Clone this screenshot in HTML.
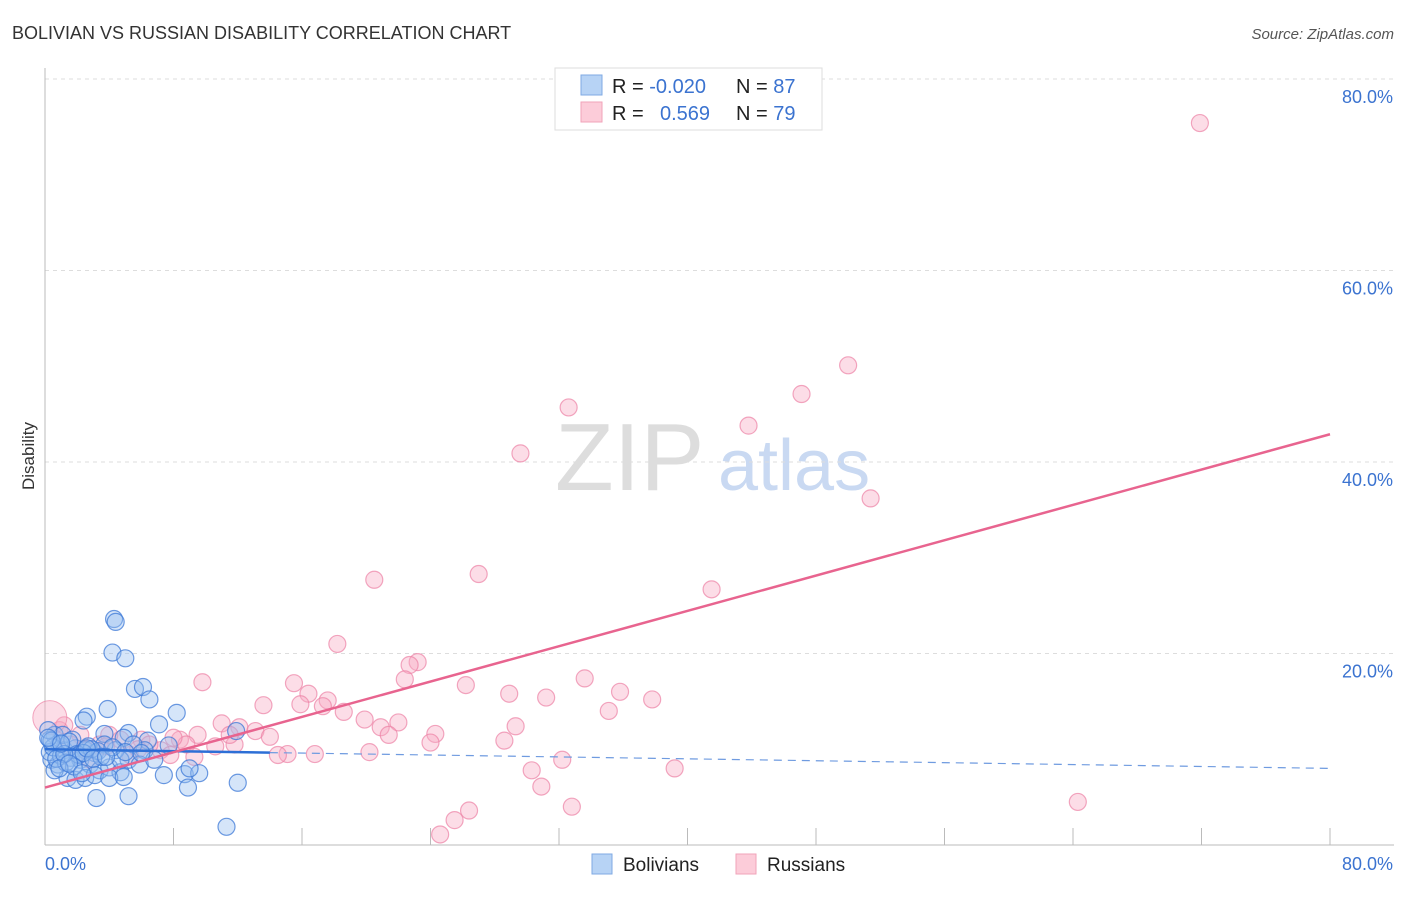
<!DOCTYPE html>
<html><head><meta charset="utf-8"><style>
body{margin:0;background:#fff;font-family:"Liberation Sans",sans-serif}
svg text{font-family:"Liberation Sans",sans-serif}
</style></head><body>
<svg width="1406" height="892" xmlns="http://www.w3.org/2000/svg">
<text x="12" y="39" font-size="18" fill="#333">BOLIVIAN VS RUSSIAN DISABILITY CORRELATION CHART</text>
<text x="1394" y="39" font-size="15" fill="#555" font-style="italic" text-anchor="end">Source: ZipAtlas.com</text>
<text x="34" y="456" font-size="17" fill="#333" transform="rotate(-90 34 456)" text-anchor="middle">Disability</text>
<text x="555" y="490" font-size="96" fill="#ddd" font-family="Liberation Serif">ZIP</text>
<text x="718" y="490" font-size="72" fill="#c9d9f2">atlas</text>
<g id="grid"></g>
<g id="marks"></g>
<g id="trend"></g>
<g>
<rect x="555" y="68" width="267" height="62" fill="#fff" stroke="#ddd"/>
<rect x="581" y="75" width="21" height="20" fill="#b7d3f5" stroke="#7fa9e3"/>
<rect x="581" y="102" width="21" height="20" fill="#fcccd9" stroke="#f1a3b9"/>
<text x="612" y="93" font-size="20" fill="#222">R = <tspan fill="#3b73d0">-0.020</tspan></text>
<text x="736" y="93" font-size="20" fill="#222">N = <tspan fill="#3b73d0">87</tspan></text>
<text x="612" y="120" font-size="20" fill="#222">R = <tspan fill="#3b73d0" x="660">0.569</tspan></text>
<text x="736" y="120" font-size="20" fill="#222">N = <tspan fill="#3b73d0">79</tspan></text>
</g>
<g>
<rect x="592" y="854" width="20" height="20" fill="#b7d3f5" stroke="#7fa9e3"/>
<text x="623" y="871" font-size="19" fill="#222">Bolivians</text>
<rect x="736" y="854" width="20" height="20" fill="#fcccd9" stroke="#f1a3b9"/>
<text x="767" y="871" font-size="19" fill="#222">Russians</text>
</g>
</svg>
<script>
const yTicks=[20,40,60,80];
const yTickLabels=["20.0%","40.0%","60.0%","80.0%"];
const xTicks=[0,8,16,24,32,40,48,56,64,72,80];
const bolX=[4.3,4.4,4.2,5.0,5.6,6.1,6.5,3.9,8.2,2.6,2.4,7.1,11.9,5.2,3.7,4.9,6.4,0.6,0.3,0.9,1.2,1.9,2.5,3.1,0.4,0.8,1.6,2.2,2.8,3.4,4.0,4.7,5.2,1.4,1.9,2.5,3.1,4.0,4.9,7.4,8.7,9.6,9.0,12.0,8.9,3.2,5.2,11.3,6.2,4.4,5.9,1.1,1.7,0.3,3.7,4.7,5.5,6.8,0.6,0.2,0.5,1.0,1.5,2.0,2.7,3.3,1.3,2.1,2.9,3.5,0.7,1.8,2.4,4.2,5.0,0.4,1.2,2.6,3.0,0.9,1.5,6.0,7.7,2.3,3.8,0.2,1.0];
const bolY=[23.6,23.3,20.1,19.5,16.3,16.5,15.2,14.2,13.8,13.4,13.0,12.6,11.9,11.7,11.6,11.2,10.9,11.5,11.0,10.5,9.9,10.1,9.9,9.6,8.9,8.4,9.1,8.9,8.4,7.8,8.1,7.6,8.9,7.0,6.8,7.0,7.3,7.0,7.1,7.3,7.4,7.5,8.0,6.5,6.0,4.9,5.1,1.9,9.9,9.9,8.4,11.5,11.0,9.7,10.5,8.9,10.5,8.9,7.8,12.0,10.2,9.3,10.8,9.5,10.3,9.8,8.6,9.4,10.0,9.2,9.0,8.2,9.6,10.2,9.7,10.9,9.5,10.1,9.0,8.0,8.5,9.6,10.4,7.5,9.2,11.2,10.6];
const rusX=[71.9,50.0,47.1,43.8,32.6,29.6,51.4,41.5,27.0,20.5,18.2,23.2,22.7,22.4,26.2,28.9,31.2,33.6,35.8,37.8,35.1,9.8,15.5,16.4,17.6,15.9,17.3,18.6,13.6,19.9,22.0,20.9,21.4,24.3,24.0,29.3,28.6,20.2,16.8,15.1,14.5,30.3,32.2,30.9,39.2,32.8,64.3,26.4,25.5,24.6,11.0,12.1,13.1,14.0,11.8,10.6,9.5,8.4,8.8,7.2,6.0,4.7,3.4,2.2,0.9,1.6,2.8,5.3,7.8,9.3,4.0,6.5,11.5,1.2,2.5,3.8,0.5,5.8,8.0];
const rusY=[75.4,50.1,47.1,43.8,45.7,40.9,36.2,26.7,28.3,27.7,21.0,19.1,18.8,17.3,16.7,15.8,15.4,17.4,16.0,15.2,14.0,17.0,16.9,15.8,15.1,14.7,14.5,13.9,14.6,13.1,12.8,12.3,11.5,11.6,10.7,12.4,10.9,9.7,9.5,9.5,9.4,7.8,8.9,6.1,8.0,4.0,4.5,3.6,2.6,1.1,12.7,12.3,11.9,11.3,10.5,10.3,11.5,11.0,10.5,9.9,11.0,11.0,10.5,11.5,12.0,10.5,8.9,9.4,9.4,9.2,11.5,10.5,11.5,12.5,10.0,10.3,11.8,10.0,11.2];
const bolTrend=[10.0,-0.025];
const rusTrend=[6.0,0.46125];
const xs=v=>45+v/80*1285, ys=v=>845-v*9.575;
const NS="http://www.w3.org/2000/svg";
function mk(t,a,p){const e=document.createElementNS(NS,t);for(const k in a)e.setAttribute(k,a[k]);p.appendChild(e);return e;}
const grid=document.getElementById('grid');
yTicks.forEach((t,i)=>{
 const l=mk('line',{x1:45,x2:1394,y1:ys(t),y2:ys(t),stroke:'#ddd','stroke-dasharray':'4,4'},grid);
 
 
 const tx=mk('text',{x:1393,y:ys(t)+24,'font-size':18,fill:'#3b73d0','text-anchor':'end'},grid);
 tx.textContent=yTickLabels[i];
 
 
});
let ax=mk('line',{x1:45,x2:45,y1:68,y2:845,stroke:'#bbb'},grid);


ax=mk('line',{x1:45,x2:1394,y1:845,y2:845,stroke:'#bbb'},grid);


xTicks.forEach(t=>{const l=mk('line',{x1:xs(t),x2:xs(t),y1:828,y2:845,stroke:'#bbb'},grid);
 
 });
let t0=mk('text',{x:45,y:870,'font-size':18,fill:'#3b73d0'},grid);t0.textContent='0.0%';


t0=mk('text',{x:1393,y:870,'font-size':18,fill:'#3b73d0','text-anchor':'end'},grid);t0.textContent='80.0%';


const marks=document.getElementById('marks');
rusX.forEach((x,i)=>{const c=mk('circle',{cx:xs(x),cy:ys(rusY[i]),r:i==76?0:8.5,fill:'rgba(248,170,195,0.4)',stroke:'rgba(236,130,165,0.7)','stroke-width':1.2},marks);
 
 });
const big=mk('circle',{cx:xs(0.3),cy:ys(13.3),r:17,fill:'rgba(248,170,195,0.4)',stroke:'rgba(236,130,165,0.7)'},marks);


bolX.forEach((x,i)=>{const c=mk('circle',{cx:xs(x),cy:ys(bolY[i]),r:8.5,fill:'rgba(150,190,240,0.4)',stroke:'rgba(60,120,215,0.75)','stroke-width':1.2},marks);
 
 });
const tr=document.getElementById('trend');
let l=mk('line',{x1:xs(0),y1:ys(bolTrend[0]),x2:xs(14),y2:ys(bolTrend[0]+bolTrend[1]*14),stroke:'#2d6fd6','stroke-width':2.5},tr);


l=mk('line',{x1:xs(14),y1:ys(bolTrend[0]+bolTrend[1]*14),x2:xs(80),y2:ys(bolTrend[0]+bolTrend[1]*80),stroke:'#6f9be0','stroke-width':1.2,'stroke-dasharray':'8,6'},tr);


l=mk('line',{x1:xs(0),y1:ys(rusTrend[0]),x2:xs(80),y2:ys(rusTrend[0]+rusTrend[1]*80),stroke:'#e8648f','stroke-width':2.5},tr);


</script>
</body></html>
